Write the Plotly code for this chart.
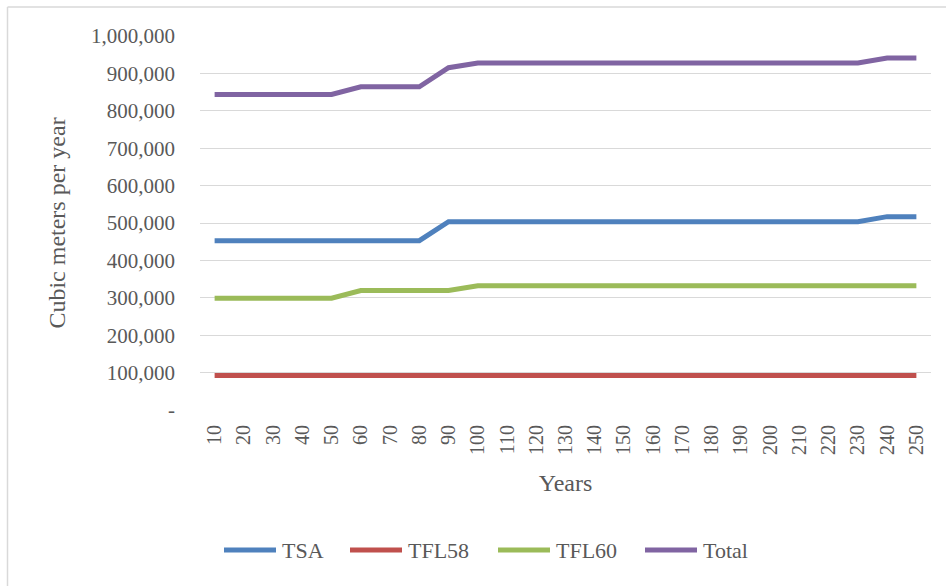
import plotly.graph_objects as go

years = [10, 20, 30, 40, 50, 60, 70, 80, 90, 100, 110, 120, 130, 140, 150,
         160, 170, 180, 190, 200, 210, 220, 230, 240, 250]
tsa = [452700] * 8 + [503600] * 15 + [517000] * 2
tfl58 = [92000] * 25
tfl60 = [299000] * 5 + [319600] * 4 + [332000] * 16
total = [843700] * 5 + [864300] * 3 + [915200] + [927600] * 14 + [941000] * 2

y_ticks = [0, 100000, 200000, 300000, 400000, 500000, 600000, 700000, 800000, 900000, 1000000]
y_ticktext = ["-", "100,000", "200,000", "300,000", "400,000", "500,000",
              "600,000", "700,000", "800,000", "900,000", "1,000,000"]

series_names = ["TSA", "TFL58", "TFL60", "Total"]
series_values = [tsa, tfl58, tfl60, total]
series_colors = ["#4F81BD", "#C0504D", "#9BBB59", "#8064A2"]

FONT = "Liberation Serif"
GREY = "#595959"

W, H = 946, 586
L, R, T, B = 200, 15, 36, 176
pw, ph = W - L - R, H - T - B


def px_x(p):
    return (p - L) / pw


def px_y(p):
    return (H - B - p) / ph


fig = go.Figure()
xcat = [str(y) for y in years]
for name, vals, col in zip(series_names, series_values, series_colors):
    fig.add_trace(go.Scatter(x=xcat, y=vals, name=name, mode="lines",
                             line=dict(color=col, width=5), showlegend=False))

# legend (drawn manually to match Excel-style long swatches)
legend_starts = [222, 348, 496, 643]
legend_y = 550
shapes = [
    dict(type="line", xref="paper", yref="paper",
         x0=px_x(7.5), x1=px_x(7.5), y0=px_y(7), y1=px_y(640),
         line=dict(color="#D9D9D9", width=1.5)),
    dict(type="line", xref="paper", yref="paper",
         x0=px_x(7.5), x1=px_x(990), y0=px_y(7), y1=px_y(7),
         line=dict(color="#D9D9D9", width=1.5)),
]
annotations = []
for name, col, x0 in zip(series_names, series_colors, legend_starts):
    shapes.append(dict(type="line", xref="paper", yref="paper",
                       x0=px_x(x0 + 2), x1=px_x(x0 + 54),
                       y0=px_y(legend_y), y1=px_y(legend_y),
                       line=dict(color=col, width=5)))
    annotations.append(dict(text=name, xref="paper", yref="paper",
                            x=px_x(x0 + 58), y=px_y(legend_y),
                            xanchor="left", yanchor="middle", showarrow=False,
                            font=dict(family=FONT, size=22, color=GREY)))

fig.update_layout(
    width=W, height=H,
    margin=dict(l=L, r=R, t=T, b=B),
    paper_bgcolor="white", plot_bgcolor="white",
    font=dict(family=FONT, color=GREY, size=21),
    showlegend=False,
    xaxis=dict(type="category", range=[-0.5, len(years) - 0.5],
               tickangle=-90, showgrid=False,
               showline=False, zeroline=False, ticks="",
               ticklabelstandoff=10,
               tickfont=dict(family=FONT, size=20, color=GREY),
               title=dict(text="Years", font=dict(family=FONT, size=24, color=GREY), standoff=20)),
    yaxis=dict(range=[0, 1000000], tickvals=y_ticks, ticktext=y_ticktext,
               showgrid=True, gridcolor="#D9D9D9", gridwidth=1.3,
               zeroline=False, showline=False, ticks="",
               ticklabelstandoff=24,
               tickfont=dict(family=FONT, size=21, color=GREY),
               title=dict(text="Cubic meters per year",
                          font=dict(family=FONT, size=24, color=GREY), standoff=18)),
    shapes=shapes,
    annotations=annotations,
)

fig.write_html("out.html")
